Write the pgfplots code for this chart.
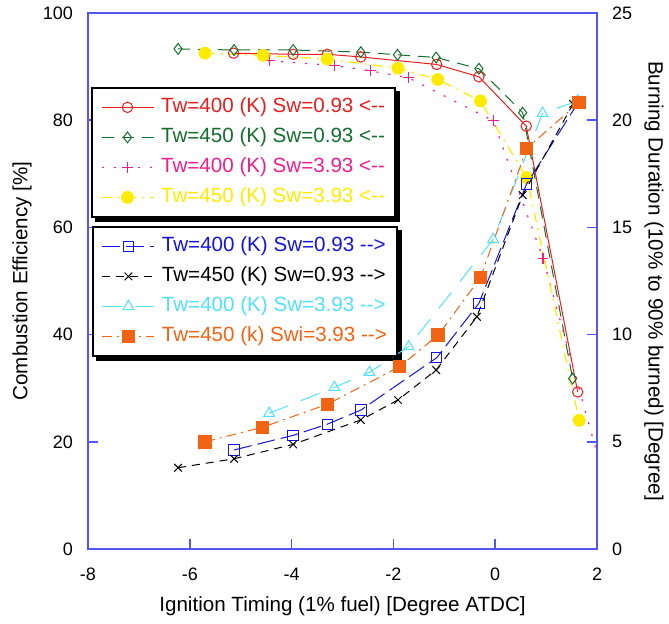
\documentclass[border=0pt]{standalone}
\usepackage{fontspec}
\setmainfont{Liberation Sans}
\usepackage{pgfplots}
\pgfplotsset{compat=1.18}
\pgfdeclarelayer{background}
\pgfsetlayers{background,main}
\definecolor{axblue}{RGB}{85,85,240}
\definecolor{cred}{RGB}{230,30,30}
\definecolor{cgreen}{RGB}{20,110,45}
\definecolor{cpink}{RGB}{240,30,140}
\definecolor{cyellow}{RGB}{255,235,0}
\definecolor{cblue}{RGB}{20,20,220}
\definecolor{ccyan}{RGB}{80,225,255}
\definecolor{corange}{RGB}{240,100,20}

\pgfplotsset{
 common/.style={
  scale only axis, width=254.5pt, height=268pt,
  xmin=-8,xmax=2,
  axis line style={axblue, line width=0.75pt},
  tick style={axblue, line width=0.75pt},
  tick align=inside, major tick length=5pt,
  tick label style={font=\fontsize{9}{10}\selectfont},
  label style={font=\fontsize{10.3}{12}\selectfont},
  /pgf/number format/assume math mode=true,
  legend cell align=left,
  legend style={draw=black, line width=0.9pt, fill=white, inner xsep=4.5pt, inner ysep=4pt,
    font=\fontsize{10.3}{12}\selectfont,
    nodes={inner sep=0.5pt, text height=8pt, text depth=2.5pt},
    row sep=3.5pt,
    /tikz/every odd column/.append style={column sep=3pt}},
  legend image code/.code={\draw[mark repeat=2,mark phase=2] plot coordinates {(0pt,0pt) (13pt,0pt) (26pt,0pt)};},
 }
}

\begin{document}
\begin{tikzpicture}
\begin{axis}[common, ymin=0, ymax=100, ytick={0,20,...,100},
  xtick={-8,-6,-4,-2,0,2}, xticklabels={-8,-6,-4,-2,0,2},
  xtick pos=bottom, ytick pos=left,
  ylabel={Combustion Efficiency [\%]},
  xlabel={Ignition Timing (1\% fuel) [Degree ATDC]},
  xlabel style={at={(axis description cs:0.5,-0.1063)},anchor=center},
  ylabel style={at={(axis description cs:-0.1297,0.5)},anchor=center},
  yticklabel style={xshift=-4pt}, xticklabel style={yshift=-6pt},
  legend style={name=legA, at={(axis description cs:0.0059,0.862)},anchor=north west}]
\coordinate (bl) at (rel axis cs:0,0);
\coordinate (tr) at (rel axis cs:1,1);
\addplot[cred, line width=0.5pt, mark=o, mark size=2.6pt, mark options={solid}] coordinates {
(-5.14,92.5) (-3.97,92.3) (-3.30,92.3) (-2.64,91.8) (-1.15,90.4) (-0.32,88.1) (0.61,78.9) (1.62,29.3)};
\addlegendentry{\textcolor{cred}{Tw=400 (K) Sw=0.93 <-{}-}}
\addplot[cgreen, line width=0.5pt, dash pattern=on 6pt off 4pt, mark=diamond, mark size=2.7pt, mark options={solid}] coordinates {
(-6.23,93.3) (-5.13,93.1) (-3.97,93.1) (-2.64,92.7) (-1.92,92.2) (-1.16,91.7) (-0.32,89.6) (0.54,81.4) (1.52,31.8)};
\addlegendentry{\textcolor{cgreen}{Tw=450 (K) Sw=0.93 <-{}-}}
\addplot[cpink, line width=0.6pt, dash pattern=on 1pt off 5pt, mark=+, mark size=2.7pt, mark options={solid}] coordinates {
(-4.44,91.1) (-3.16,90.2) (-2.45,89.2) (-1.70,87.9) (-0.04,79.9) (0.94,54.2) (2.2,11)};
\addlegendentry{\textcolor{cpink}{Tw=400 (K) Sw=3.93 <-{}-}}
\addplot[cyellow, line width=0.6pt, dash pattern=on 5pt off 3pt on 1pt off 3pt, mark=*, mark size=2.9pt, mark options={solid, fill=cyellow}] coordinates {
(-5.70,92.5) (-4.56,92.1) (-3.30,91.4) (-1.91,89.7) (-1.13,87.6) (-0.29,83.6) (0.62,69.3) (1.65,24.0)};
\addlegendentry{\textcolor{cyellow}{Tw=450 (K) Sw=3.93 <-{}-}}
\end{axis}
\begin{axis}[common, ymin=0, ymax=25, ytick={0,5,...,25},
  axis x line=none, axis y line*=right,
  ylabel={Burning Duration (10\% to 90\% burned) [Degree]},
  ylabel style={at={(axis description cs:1.112,0.5)},anchor=center,rotate=180},
  yticklabel style={xshift=4pt},
  legend style={name=legB, at={(axis description cs:0.0079,0.6026)},anchor=north west}]
\addplot[cblue, line width=0.5pt, dash pattern=on 9pt off 3pt, mark=square, mark size=2.6pt, mark options={solid}] coordinates {
(-5.13,4.62) (-3.97,5.30) (-3.30,5.82) (-2.64,6.48) (-1.15,8.92) (-0.32,11.46) (0.615,17.02) (1.63,20.82)};
\addlegendentry{\textcolor{cblue}{Tw=400 (K) Sw=0.93 -{}->}}
\addplot[black, line width=0.5pt, dash pattern=on 4pt off 3pt, mark=x, mark size=2.7pt, mark options={solid}] coordinates {
(-6.23,3.79) (-5.13,4.21) (-3.97,4.88) (-2.64,6.02) (-1.91,6.95) (-1.16,8.35) (-0.36,10.83) (0.54,16.51) (1.53,20.76)};
\addlegendentry{\textcolor{black}{Tw=450 (K) Sw=0.93 -{}->}}
\addplot[ccyan, line width=0.5pt, dash pattern=on 10pt off 7pt, mark=triangle, mark size=3.1pt, mark options={solid}] coordinates {
(-4.44,6.33) (-3.16,7.54) (-2.47,8.24) (-1.70,9.44) (-0.04,14.44) (0.93,20.32) (1.62,20.9)};
\addlegendentry{\textcolor{ccyan}{Tw=400 (K) Sw=3.93 -{}->}}
\addplot[corange, line width=0.5pt, dash pattern=on 5pt off 2.5pt on 1pt off 2.5pt, mark=square*, mark size=3.1pt, mark options={solid, fill=corange}] coordinates {
(-5.70,5.00) (-4.57,5.68) (-3.30,6.75) (-1.88,8.50) (-1.12,9.98) (-0.29,12.66) (0.62,18.69) (1.65,20.83)};
\addlegendentry{\textcolor{corange}{Tw=450 (k) Swi=3.93 -{}->}}
\end{axis}
\begin{pgfonlayer}{background}
\fill[black] ([shift={(2pt,-2pt)}]legA.south west) rectangle ([shift={(2pt,-2pt)}]legA.north east);
\fill[black] ([shift={(2pt,-2pt)}]legB.south west) rectangle ([shift={(2pt,-2pt)}]legB.north east);
\end{pgfonlayer}
\pgfresetboundingbox
\path (bl) ++(-44pt,-37pt) rectangle ([shift={(36pt,6.5pt)}]tr);
\end{tikzpicture}
\end{document}
